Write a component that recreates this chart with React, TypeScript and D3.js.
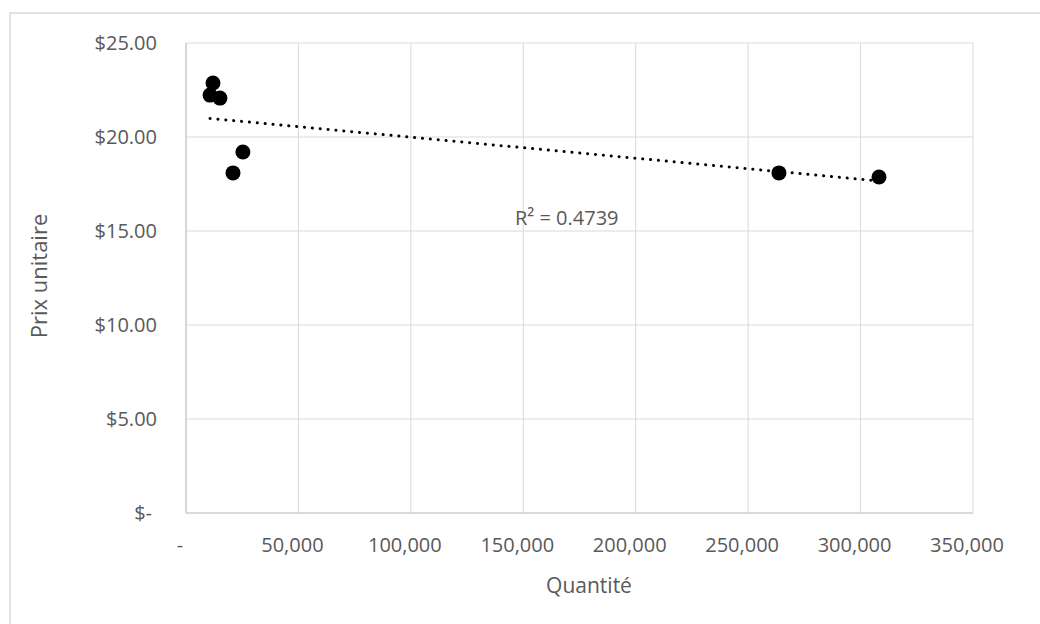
import React from "react";
import * as d3 from "d3";

const quantities = [10700, 12000, 15100, 20900, 25300, 263700, 308200];
const prices = [22.23, 22.87, 22.07, 18.09, 19.2, 18.09, 17.87];
const xTicks = [0, 50000, 100000, 150000, 200000, 250000, 300000, 350000];
const yTicks = [0, 5, 10, 15, 20, 25];
const r2Label = "R² = 0.4739";
const xTitle = "Quantité";
const yTitle = "Prix unitaire";

const W = 1040;
const H = 624;
const plot = { left: 186, right: 973, top: 43, bottom: 513 };
const FONT = "'Open Sans', sans-serif";
const TXT = "#595959";
const GRID = "#d9d9d9";

export default function App() {
  const x = d3.scaleLinear().domain([0, 350000]).range([plot.left, plot.right]);
  const y = d3.scaleLinear().domain([0, 25]).range([plot.bottom, plot.top]);

  // linear regression trendline
  const n = quantities.length;
  const mx = d3.mean(quantities)!;
  const my = d3.mean(prices)!;
  let sxy = 0,
    sxx = 0;
  for (let i = 0; i < n; i++) {
    sxy += (quantities[i] - mx) * (prices[i] - my);
    sxx += (quantities[i] - mx) ** 2;
  }
  const slope = sxy / sxx;
  const intercept = my - slope * mx;
  const [xmin, xmax] = d3.extent(quantities) as [number, number];
  const line = d3
    .line<number>()
    .x((d) => x(d))
    .y((d) => y(intercept + slope * d));

  const fmtX = (v: number) => (v === 0 ? "-" : d3.format(",")(v));
  const fmtY = (v: number) => (v === 0 ? "$-" : "$" + d3.format(".2f")(v));

  return (
    <svg
      width={W}
      height={H}
      style={{ position: "absolute", left: 0, top: 0, background: "#fff" }}
      fontFamily={FONT}
    >
      <rect x={10} y={13} width={W + 20} height={H + 20} fill="#fff" stroke={GRID} strokeWidth={1.5} />
      {/* gridlines */}
      {yTicks.map((t) => (
        <line key={"gy" + t} x1={plot.left} x2={plot.right} y1={y(t)} y2={y(t)} stroke={GRID} strokeWidth={1} />
      ))}
      {xTicks.map((t) => (
        <line key={"gx" + t} x1={x(t)} x2={x(t)} y1={plot.top} y2={plot.bottom} stroke={GRID} strokeWidth={1} />
      ))}
      <line x1={plot.left} x2={plot.right} y1={plot.bottom} y2={plot.bottom} stroke="#c8c8c8" strokeWidth={1.2} />
      <line x1={plot.left} x2={plot.left} y1={plot.top} y2={plot.bottom} stroke="#c8c8c8" strokeWidth={1.2} />
      {/* tick labels */}
      {yTicks.map((t) => (
        <text key={"ty" + t} x={t === 0 ? 152 : 157} y={y(t)} dy="0.35em" textAnchor="end" fontSize={20} fill={TXT}>
          {fmtY(t)}
        </text>
      ))}
      {xTicks.map((t) => (
        <text key={"tx" + t} x={x(t) - 6} y={552} textAnchor="middle" fontSize={20} fill={TXT}>
          {fmtX(t)}
        </text>
      ))}
      {/* titles */}
      <text x={589} y={593} textAnchor="middle" fontSize={21} fill={TXT}>
        {xTitle}
      </text>
      <text
        transform={`translate(${47},${276}) rotate(-90)`}
        textAnchor="middle"
        fontSize={22}
        fill={TXT}
      >
        {yTitle}
      </text>
      {/* trendline */}
      <path
        d={line([xmin, xmax]) || ""}
        fill="none"
        stroke="#000"
        strokeWidth={3}
        strokeDasharray="0.1 7.8"
        strokeLinecap="round"
      />
      {/* points */}
      {quantities.map((q, i) => (
        <circle key={"p" + i} cx={x(q)} cy={y(prices[i])} r={7.5} fill="#000" />
      ))}
      <text x={515} y={225} fontSize={20} fill={TXT}>
        {r2Label}
      </text>
    </svg>
  );
}
